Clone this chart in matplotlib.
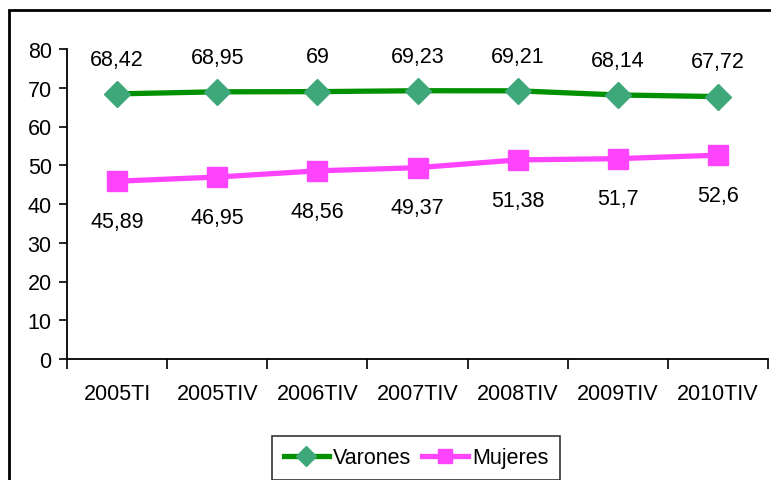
import matplotlib
matplotlib.use("Agg")
import matplotlib.pyplot as plt
from matplotlib.patches import Rectangle

categories = ["2005TI", "2005TIV", "2006TIV", "2007TIV", "2008TIV", "2009TIV", "2010TIV"]
varones = [68.42, 68.95, 69, 69.23, 69.21, 68.14, 67.72]
mujeres = [45.89, 46.95, 48.56, 49.37, 51.38, 51.7, 52.6]
varones_labels = ["68,42", "68,95", "69", "69,23", "69,21", "68,14", "67,72"]
mujeres_labels = ["45,89", "46,95", "48,56", "49,37", "51,38", "51,7", "52,6"]
yticks = [0, 10, 20, 30, 40, 50, 60, 70, 80]

plt.rcParams["font.family"] = ["Liberation Sans", "DejaVu Sans"]

W, H = 771, 481
fig = plt.figure(figsize=(W / 100, H / 100), dpi=100)
ax = fig.add_axes([67 / W, 1 - 360 / H, (768 - 67) / W, (360 - 50) / H])

x = list(range(len(categories)))
ax.plot(x, varones, color="#009000", lw=3.8, marker="D", ms=13, mfc="#3EA87A", mec="#3EA87A", label="Varones", zorder=3)
ax.plot(x, mujeres, color="#FF44FF", lw=3.8, marker="s", ms=14, mfc="#FF44FF", mec="#FF44FF", label="Mujeres", zorder=3)

fs = 15.5
for xi, v, t in zip(x, varones, varones_labels):
    ax.annotate(t, (xi, v), xytext=(0, 25), textcoords="offset points", ha="center", va="center", fontsize=fs)
for xi, v, t in zip(x, mujeres, mujeres_labels):
    ax.annotate(t, (xi, v), xytext=(0, -29), textcoords="offset points", ha="center", va="center", fontsize=fs)

ax.set_xlim(-0.5, len(categories) - 0.5)
ax.set_ylim(0, 80)
ax.set_yticks(yticks)
ax.set_yticklabels([str(t) for t in yticks], fontsize=fs)
ax.set_xticks([i - 0.5 for i in range(len(categories) + 1)])
ax.set_xticklabels([])
ax.set_xticks(x, minor=True)
ax.set_xticklabels(categories, minor=True, fontsize=fs)
ax.tick_params(axis="x", which="minor", length=0, pad=17)
ax.tick_params(axis="x", which="major", length=7, width=1.2, direction="out")
ax.tick_params(axis="y", length=6, width=1.2, direction="out", pad=5)
for s in ["top", "right"]:
    ax.spines[s].set_visible(False)
for s in ["left", "bottom"]:
    ax.spines[s].set_linewidth(1.3)

leg = fig.legend(loc="center", bbox_to_anchor=(416 / W, 1 - 459 / H), ncol=2, fontsize=fs,
                 frameon=True, fancybox=False, edgecolor="black", handlelength=2.1,
                 handletextpad=0.2, columnspacing=0.5, borderpad=0.55, markerscale=0.75)
leg.get_frame().set_linewidth(1.2)

fig.patches.append(Rectangle((9 / W, -0.1), 1.2, 1 - 11 / H + 0.1, transform=fig.transFigure,
                             fill=False, edgecolor="black", lw=2))

fig.savefig("out.png", dpi=100)
